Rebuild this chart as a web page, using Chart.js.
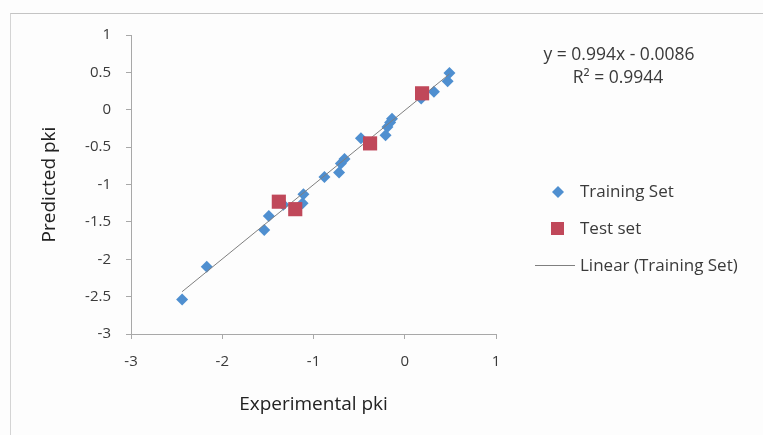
<!DOCTYPE html>
<html>
<head>
<meta charset="utf-8">
<script src="https://cdn.jsdelivr.net/npm/chart.js@4/dist/chart.umd.min.js"></script>
<style>
	body { margin: 0; background: #fdfdfd; }
	#wrap { position: relative; width: 763px; height: 435px; }
	#cadre { position: absolute; left: 10px; top: 13px; right: 0; bottom: 0; border-top: 1px solid #c4c4c4; border-left: 1px solid #d4d4d4; }
	canvas { position: absolute; left: 0; top: 0; }
</style>
</head>
<body>
<div id="wrap">
	<div id="cadre"></div>
	<canvas id="pkiChart" width="763" height="435"></canvas>
</div>
<script>
// valeurs
const trainX = [-2.44, -2.17, -1.54, -1.49, -1.33, -1.12, -1.11, -0.88, -0.72, -0.70, -0.66, -0.48, -0.21, -0.19, -0.16, -0.14, 0.18, 0.32, 0.47, 0.49];
const trainY = [-2.54, -2.10, -1.61, -1.42, -1.27, -1.25, -1.13, -0.90, -0.84, -0.72, -0.66, -0.38, -0.34, -0.23, -0.17, -0.12, 0.15, 0.24, 0.38, 0.49];
const testX = [-1.38, -1.20, -0.38, 0.19];
const testY = [-1.23, -1.33, -0.45, 0.22];

// droite de tendance (équation affichée)
const slope = 0.994;
const intercept = -0.0086;
const equationText = "y = 0.994x - 0.0086";
const r2Text = "R² = 0.9944";

const xTicks = [-3, -2, -1, 0, 1];
const yTicks = [1, 0.5, 0, -0.5, -1, -1.5, -2, -2.5, -3];

const blue = "#4f8fd0";
const red = "#c0485a";
const grey = "#7f7f7f";
const textColor = "#3a3a3a";
const fontName = "'Open Sans', Lato, sans-serif";

function toPoints(xs, ys) {
	return xs.map((x, i) => ({ x: x, y: ys[i] }));
}

function trendPoints() {
	const xMin = Math.min(...trainX);
	const xMax = Math.max(...trainX);
	return [
		{ x: xMin, y: slope * xMin + intercept },
		{ x: xMax, y: slope * xMax + intercept },
	];
}

/**
 * équation + légende dessinées à la main à droite
 */
const sidePanel = {
	id: "sidePanel",
	afterDraw(chart) {
		const ctx = chart.ctx;
		ctx.save();
		ctx.font = "17.5px " + fontName;
		ctx.fillStyle = textColor;
		ctx.textBaseline = "middle";
		ctx.textAlign = "center";
		ctx.fillText(equationText, 619, 55);
		ctx.fillText(r2Text, 618, 78);

		ctx.font = "17px " + fontName;
		ctx.textAlign = "left";
		// Training Set
		ctx.fillStyle = blue;
		ctx.beginPath();
		ctx.moveTo(558, 186);
		ctx.lineTo(564, 192);
		ctx.lineTo(558, 198);
		ctx.lineTo(552, 192);
		ctx.closePath();
		ctx.fill();
		ctx.fillStyle = textColor;
		ctx.fillText("Training Set", 580, 192);

		// Test set
		ctx.fillStyle = red;
		ctx.fillRect(551, 222, 13, 13);
		ctx.fillStyle = textColor;
		ctx.fillText("Test set", 580, 229);

		// Linear
		ctx.strokeStyle = grey;
		ctx.lineWidth = 1;
		ctx.beginPath();
		ctx.moveTo(535, 265.5);
		ctx.lineTo(575, 265.5);
		ctx.stroke();
		ctx.fillText("Linear (Training Set)", 580, 266);
		ctx.restore();
	},
};

function drawPkiChart() {
	const ctx = document.getElementById("pkiChart").getContext("2d");

	new Chart(ctx, {
		type: "scatter",
		data: {
			datasets: [
				{
					label: "Test set",
					data: toPoints(testX, testY),
					pointStyle: "rect",
					pointRadius: 10,
					pointBackgroundColor: red,
					pointBorderWidth: 0,
					order: 0,
				},
				{
					label: "Linear (Training Set)",
					data: trendPoints(),
					showLine: true,
					borderColor: grey,
					borderWidth: 1,
					pointRadius: 0,
					order: 1,
				},
				{
					label: "Training Set",
					data: toPoints(trainX, trainY),
					pointStyle: "rectRot",
					pointRadius: 6,
					pointBackgroundColor: blue,
					pointBorderWidth: 0,
					order: 2,
				},
			],
		},
		options: {
			responsive: false,
			animation: false,
			layout: { padding: { left: 36, top: 35, right: 267, bottom: 16 } },
			plugins: {
				legend: { display: false },
				tooltip: { enabled: false },
			},
			scales: {
				x: {
					min: -3,
					max: 1,
					afterBuildTicks: (scale) => {
						scale.ticks = xTicks.map((v) => ({ value: v }));
					},
					afterFit: (scale) => {
						scale.height = 85;
					},
					grid: { drawOnChartArea: false, tickLength: 5, color: "#a8a8a8" },
					border: { color: "#a8a8a8" },
					ticks: {
						color: textColor,
						font: { family: fontName, size: 15 },
						padding: 14,
						callback: (v) => String(v),
					},
					title: {
						display: true,
						text: "Experimental pki",
						color: "#222",
						font: { family: fontName, size: 19 },
						padding: { top: 4, bottom: 3 },
					},
				},
				y: {
					min: -3,
					max: 1,
					afterBuildTicks: (scale) => {
						scale.ticks = yTicks.map((v) => ({ value: v }));
					},
					afterFit: (scale) => {
						scale.width = 95;
					},
					grid: { drawOnChartArea: false, tickLength: 5, color: "#a8a8a8" },
					border: { color: "#a8a8a8" },
					ticks: {
						color: textColor,
						font: { family: fontName, size: 15 },
						padding: 15,
						callback: (v) => String(v),
					},
					title: {
						display: true,
						text: "Predicted pki",
						color: "#222",
						font: { family: fontName, size: 19 },
						padding: { top: 2, bottom: 4 },
					},
				},
			},
		},
		plugins: [sidePanel],
	});
}

drawPkiChart();
</script>
</body>
</html>
